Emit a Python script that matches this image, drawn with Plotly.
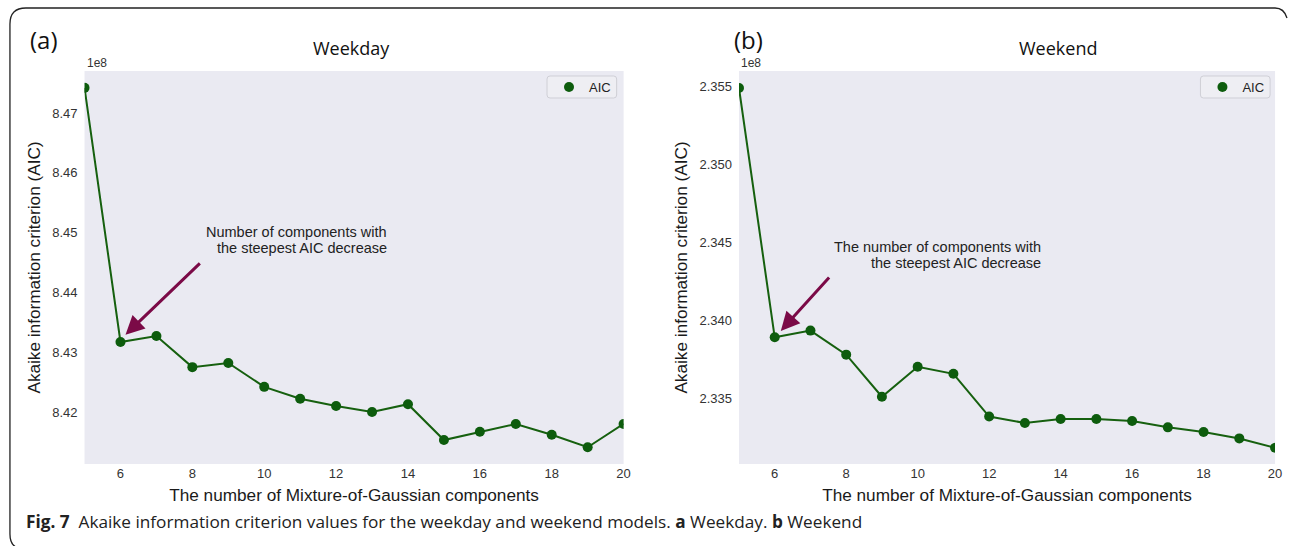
import plotly.graph_objects as go

# ---------------- data ----------------
n_components = [5, 6, 7, 8, 9, 10, 11, 12, 13, 14, 15, 16, 17, 18, 19, 20]
aic_weekday_1e8 = [8.4742, 8.4317, 8.4327, 8.4275, 8.4282, 8.4242, 8.4222, 8.4210,
                   8.4200, 8.4213, 8.4153, 8.4167, 8.4180, 8.4162, 8.4141, 8.4180]
aic_weekend_1e8 = [2.35487, 2.33889, 2.33932, 2.33778, 2.33508, 2.33700, 2.33655, 2.33381,
                   2.33340, 2.33365, 2.33365, 2.33353, 2.33312, 2.33282, 2.33241, 2.33181]
x_ticks = [6, 8, 10, 12, 14, 16, 18, 20]
weekday_yticks = [8.42, 8.43, 8.44, 8.45, 8.46, 8.47]
weekend_yticks = [2.335, 2.340, 2.345, 2.350, 2.355]
series_name = "AIC"
panel_titles = ["Weekday", "Weekend"]
panel_labels = ["(a)", "(b)"]
x_title = "The number of Mixture-of-Gaussian components"
y_title = "Akaike information criterion (AIC)"
note_weekday = ["Number of components with", "the steepest AIC decrease"]
note_weekend = ["The number of components with", "the steepest AIC decrease"]
caption = ("<b>Fig. 7</b>  Akaike information criterion values for the weekday and weekend "
           "models. <b>a</b> Weekday. <b>b</b> Weekend")

# ---------------- style ----------------
W, H = 1292, 546
GREEN = "#0d5c0d"
LINE_GREEN = "#16600f"
ARROW = "#7b0a47"
BG = "#EAEAF2"
ARIAL = "Liberation Sans, Arial"
HUMANIST = "Open Sans, Noto Sans"
TICKFONT = dict(family=ARIAL, size=13, color="#333333")
TITLEFONT = dict(family=ARIAL, size=17.2, color="#1a1a1a")

L_X0, L_X1 = 85, 627      # left panel plot area (px)
R_X0, R_X1 = 743, 1282    # right panel plot area (px)
P_Y0, P_Y1 = 71, 464


def px(x):
    return x / W


def py(y):
    return 1 - y / H


fig = go.Figure()

# weekday
fig.add_trace(go.Scatter(x=n_components, y=aic_weekday_1e8, mode="lines",
                         line=dict(color=LINE_GREEN, width=2), showlegend=False,
                         xaxis="x", yaxis="y", hoverinfo="skip"))
fig.add_trace(go.Scatter(x=n_components, y=aic_weekday_1e8, mode="markers", name=series_name,
                         marker=dict(color=GREEN, size=10), legend="legend",
                         xaxis="x", yaxis="y"))
# weekend
fig.add_trace(go.Scatter(x=n_components, y=aic_weekend_1e8, mode="lines",
                         line=dict(color=LINE_GREEN, width=2), showlegend=False,
                         xaxis="x2", yaxis="y2", hoverinfo="skip"))
fig.add_trace(go.Scatter(x=n_components, y=aic_weekend_1e8, mode="markers", name=series_name,
                         marker=dict(color=GREEN, size=10), legend="legend2",
                         xaxis="x2", yaxis="y2"))

common_x = dict(range=[5, 20], tickvals=x_ticks, showgrid=False, zeroline=False,
                showline=False, ticks="", tickfont=TICKFONT,
                title=dict(text=x_title, font=TITLEFONT, standoff=8))
common_y = dict(showgrid=False, zeroline=False, showline=False, ticks="",
                tickfont=TICKFONT, ticklabelstandoff=6,
                title=dict(text=y_title, font=TITLEFONT, standoff=7))

legend_style = dict(bgcolor="rgba(0,0,0,0)", borderwidth=0,
                    font=dict(family=ARIAL, size=13, color="#222222"),
                    xanchor="left", yanchor="middle", itemwidth=30,
                    tracegroupgap=0)

fig.update_layout(
    width=W, height=H,
    margin=dict(l=0, r=0, t=0, b=0),
    paper_bgcolor="white",
    plot_bgcolor=BG,
    xaxis=dict(domain=[px(L_X0), px(L_X1)], anchor="y", **common_x),
    yaxis=dict(domain=[py(P_Y1), py(P_Y0)], anchor="x", range=[8.4113, 8.47702],
               tickvals=weekday_yticks, tickformat=".2f", **common_y),
    xaxis2=dict(domain=[px(R_X0), px(R_X1)], anchor="y2", **common_x),
    yaxis2=dict(domain=[py(P_Y1), py(P_Y0)], anchor="x2", range=[2.33077, 2.35596],
                tickvals=weekend_yticks, tickformat=".3f", **common_y),
    legend=dict(x=px(552), y=py(87), **legend_style),
    legend2=dict(x=px(1209), y=py(87), **legend_style),
    showlegend=True,
)

ann = []
# panel labels and titles
for lab, xpix in zip(panel_labels, (28, 736)):
    ann.append(dict(text=lab, x=px(xpix), y=py(40), xref="paper", yref="paper",
                    xanchor="left", yanchor="middle", showarrow=False,
                    font=dict(family=HUMANIST, size=24, color="#111111")))
for ttl, xpix in zip(panel_titles, (353, 1064)):
    ann.append(dict(text=ttl, x=px(xpix), y=py(48), xref="paper", yref="paper",
                    xanchor="center", yanchor="middle", showarrow=False,
                    font=dict(family=HUMANIST, size=18, color="#111111")))
# offset text
for xpix in (L_X0, R_X0):
    ann.append(dict(text="1e8", x=px(xpix), y=py(63), xref="paper", yref="paper",
                    xanchor="left", yanchor="middle", showarrow=False,
                    font=dict(family=ARIAL, size=12, color="#333333")))
# arrows
ann.append(dict(text="", x=6.14, y=8.4329, ax=8.25, ay=8.4451, xref="x", yref="y",
                axref="x", ayref="y", showarrow=True, arrowhead=2, arrowsize=1.25,
                arrowwidth=3, arrowcolor=ARROW))
ann.append(dict(text="", x=6.17, y=2.33930, ax=7.56, ay=2.34282, xref="x2", yref="y2",
                axref="x2", ayref="y2", showarrow=True, arrowhead=2, arrowsize=1.25,
                arrowwidth=3, arrowcolor=ARROW))
# notes (one annotation per line to match line spacing)
for lines, xr, ys in ((note_weekday, 391, (232, 248)), (note_weekend, 1049, (247, 263))):
    for line, yl in zip(lines, ys):
        ann.append(dict(text=line, x=px(xr), y=py(yl), xref="paper", yref="paper",
                        xanchor="right", yanchor="middle", align="right", showarrow=False,
                        font=dict(family=ARIAL, size=14.5, color="#222222")))
# caption
ann.append(dict(text=caption, x=px(24), y=py(521), xref="paper", yref="paper",
                xanchor="left", yanchor="middle", showarrow=False,
                font=dict(family=HUMANIST, size=17.2, color="#222222")))
fig.update_layout(annotations=ann)


def pt(x, y):
    return f"{px(x):.5f},{py(y):.5f}"


def rounded_rect(x0, y0, x1, y1, r):
    return (f"M {pt(x0 + r, y0)} L {pt(x1 - r, y0)} Q {pt(x1, y0)} {pt(x1, y0 + r)} "
            f"L {pt(x1, y1 - r)} Q {pt(x1, y1)} {pt(x1 - r, y1)} L {pt(x0 + r, y1)} "
            f"Q {pt(x0, y1)} {pt(x0, y1 - r)} L {pt(x0, y0 + r)} Q {pt(x0, y0)} {pt(x0 + r, y0)} Z")


# legend frames (matplotlib-style rounded boxes)
for x0, x1 in ((550, 620), (1207, 1277)):
    fig.add_shape(type="path", path=rounded_rect(x0, 76, x1, 98, 3), xref="paper", yref="paper",
                  line=dict(color="#cfcfd6", width=1), fillcolor="#EEEEF3", layer="above")

# figure frame (rounded border)
frame = (f"M {pt(16, 547)} Q {pt(10, 544)} {pt(10, 534)} L {pt(10, 24)} "
         f"Q {pt(10, 8)} {pt(26, 8)} L {pt(1282, 8)} Q {pt(1291, 8)} {pt(1294, 18)}")
fig.add_shape(type="path", path=frame, xref="paper", yref="paper",
              line=dict(color="#222222", width=1.3), layer="above")

fig.write_html("out.html", config={"displayModeBar": False},
               post_script="document.body.style.margin='0px';document.body.style.overflow='hidden';")
